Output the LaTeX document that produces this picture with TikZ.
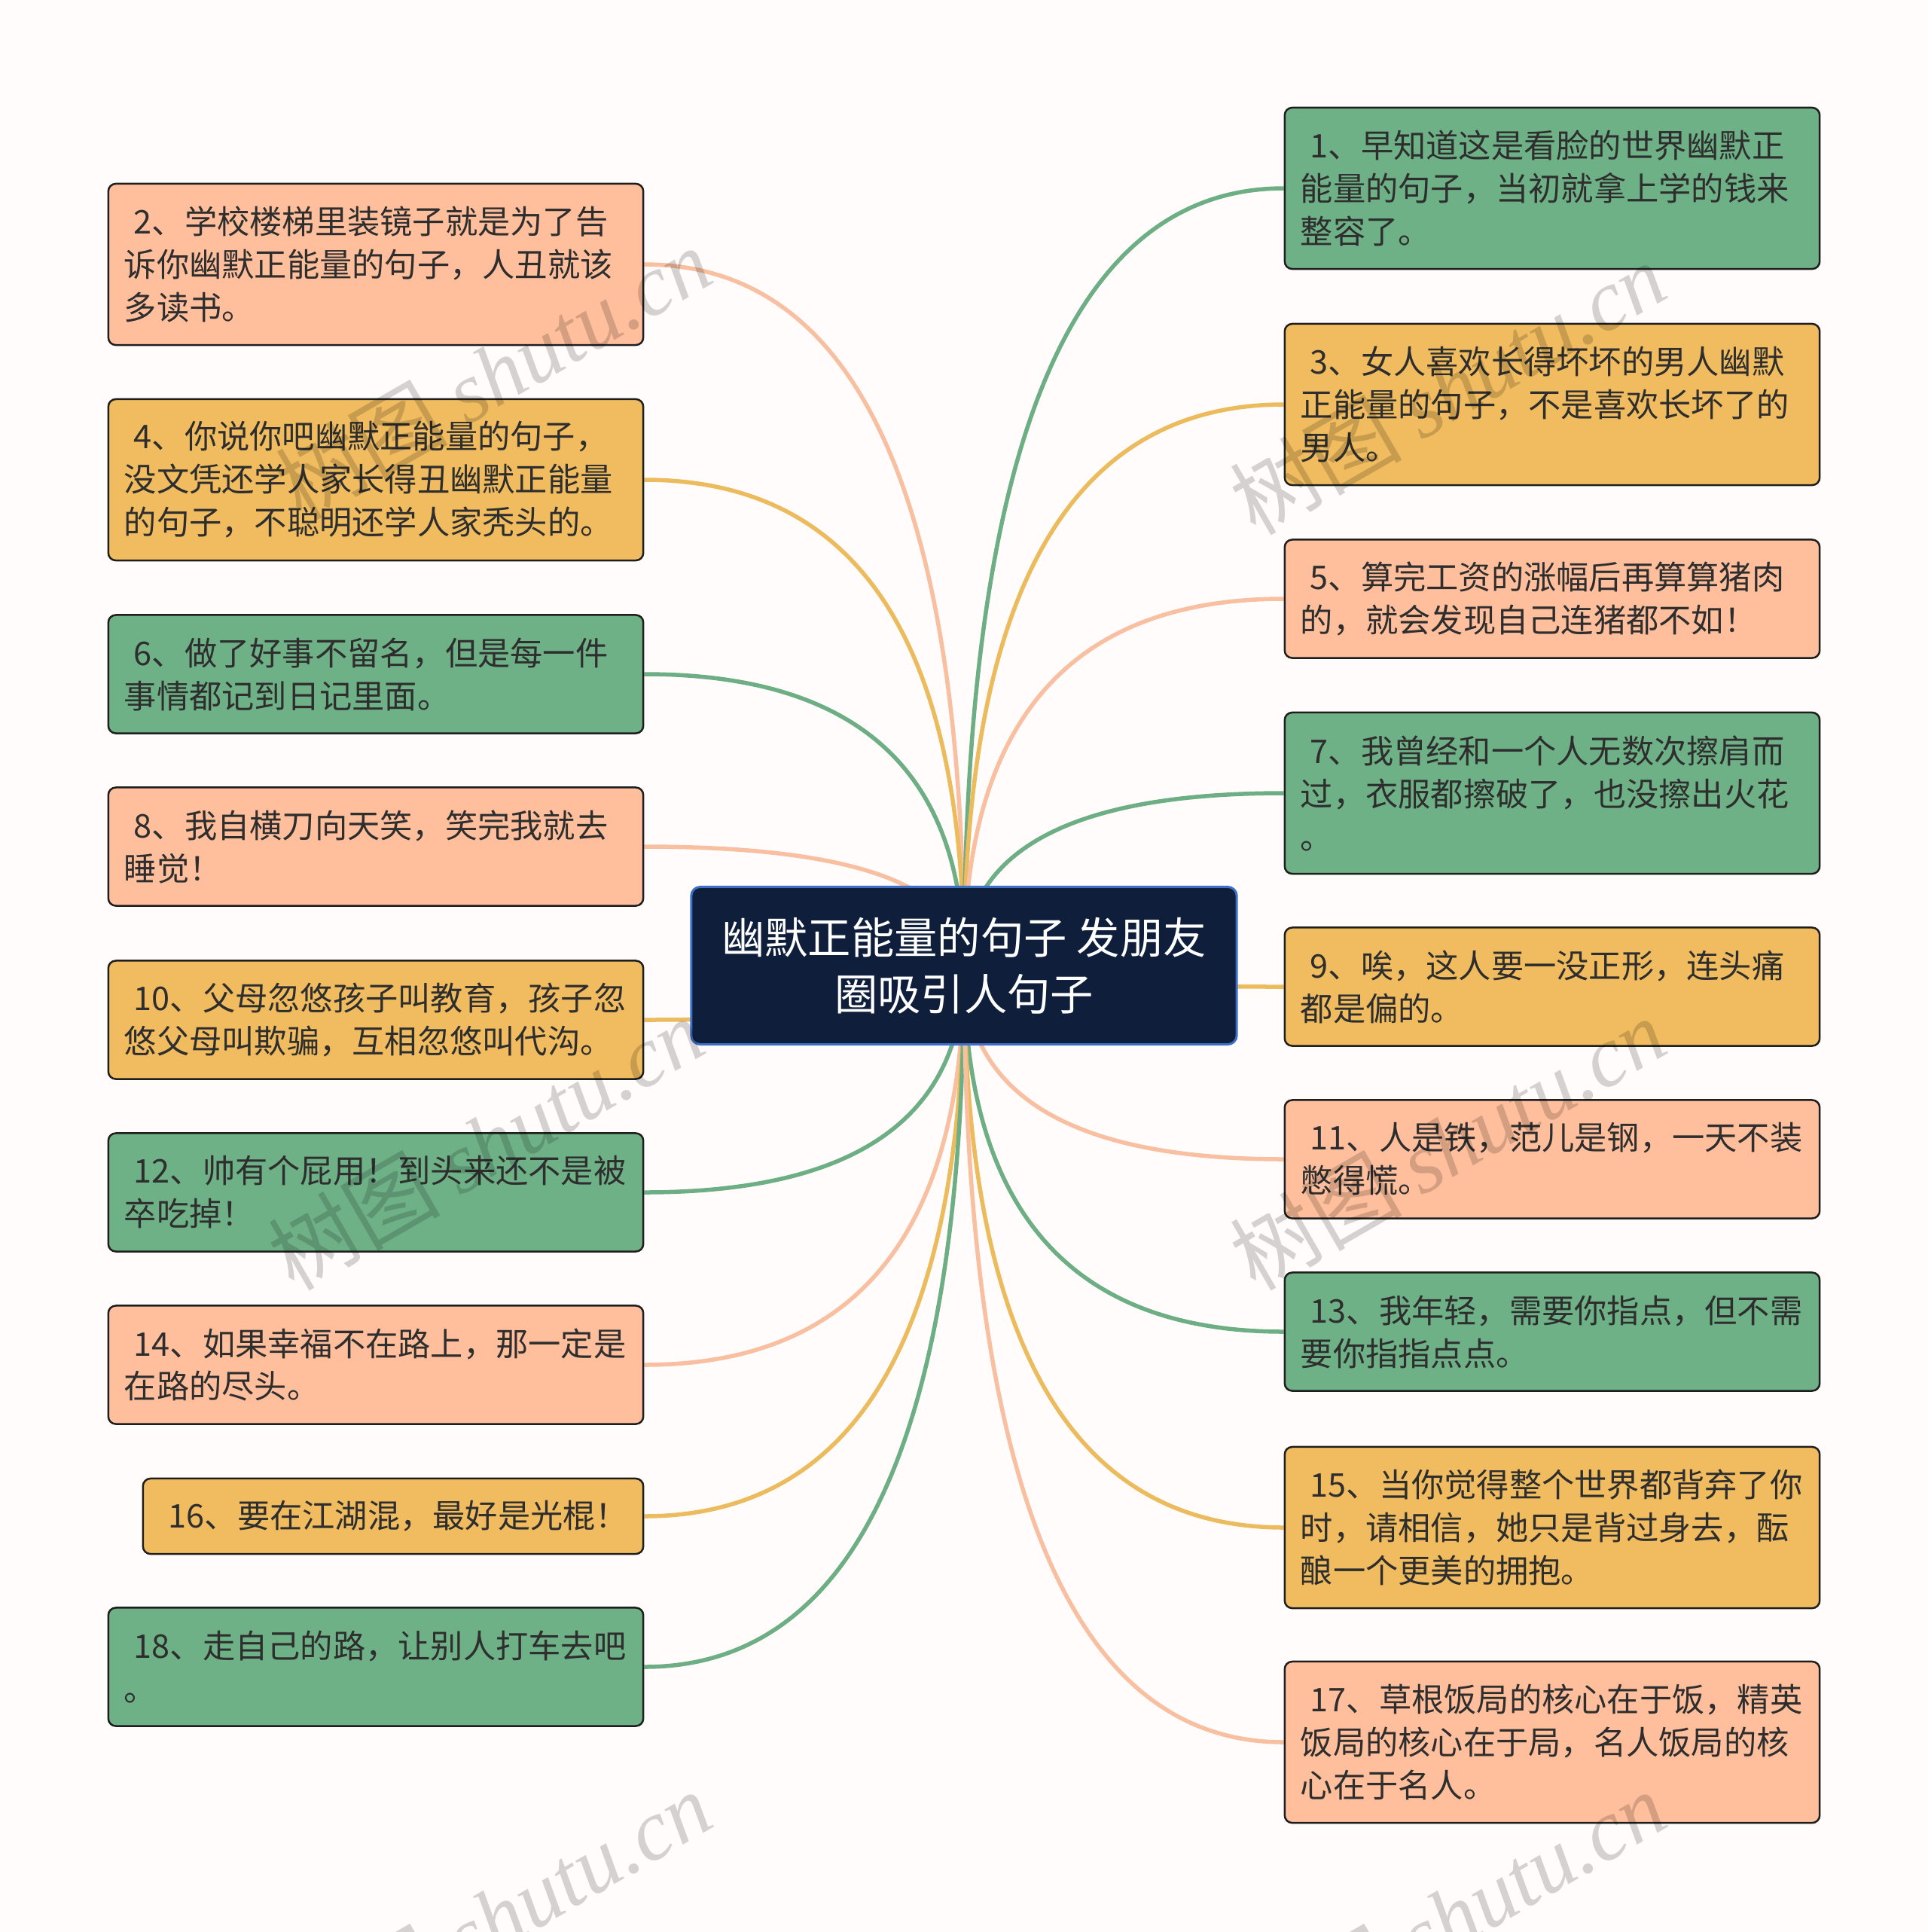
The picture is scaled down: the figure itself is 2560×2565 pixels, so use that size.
\documentclass[tikz,border=0pt]{standalone}
\usepackage{fontspec}
\setmainfont{Noto Sans CJK SC}
\newfontfamily\wmserif{Liberation Serif}
\usetikzlibrary{calc}
\pgfdeclarelayer{bg}
\pgfdeclarelayer{top}
\pgfsetlayers{bg,main,top}
\definecolor{bgc}{HTML}{FFFCFB}
\definecolor{salF}{HTML}{FFBF9C}
\definecolor{yelF}{HTML}{F0BC5F}
\definecolor{grnF}{HTML}{6FB187}
\definecolor{salE}{HTML}{F8BFA1}
\definecolor{yelE}{HTML}{EBBB5E}
\definecolor{grnE}{HTML}{6DAE85}
\definecolor{txt}{HTML}{2E2E2E}
\definecolor{bord}{HTML}{1E1E1E}
\definecolor{ctrF}{HTML}{0E1E3B}
\definecolor{ctrB}{HTML}{3D70C6}
\newcommand\leaffont{\fontsize{12.3pt}{16.2pt}\selectfont}
\newcommand\ttlfont{\fontsize{16.3pt}{21.3pt}\selectfont}
\newcommand\ind{\hspace*{0.3em}}
\tikzset{
  leaf/.style={draw=bord, line width=0.025cm, rounded corners=0.1cm,
    text width=6.68cm, inner xsep=0.21cm, inner ysep=0cm, align=left,
    font=\leaffont, text=txt},
  sal/.style={leaf, fill=salF},
  yel/.style={leaf, fill=yelF},
  grn/.style={leaf, fill=grnF},
  three/.style={minimum height=2.14cm},
  two/.style={minimum height=1.57cm},
  one/.style={minimum height=1.00cm},
  root/.style={draw=ctrB, fill=ctrF, line width=0.03cm, rounded corners=0.12cm,
    minimum width=7.24cm, minimum height=2.09cm, align=center,
    font=\ttlfont, text=white},
  eS/.style={draw=salE, line width=0.055cm},
  eY/.style={draw=yelE, line width=0.055cm},
  eG/.style={draw=grnE, line width=0.055cm},
  wm/.style={rotate=30, text=black, opacity=0.17, font=\fontsize{32.5pt}{32.5pt}\selectfont}
}
\newcommand\edgeto[2]{%
  \path (c.center |- #2) coordinate (tmpk);
  \draw[#1] (c.center) .. controls ($(c.center)!0.6667!(tmpk)$) and ($(#2)!0.6667!(tmpk)$) .. (#2);}
\begin{document}
\begin{tikzpicture}[x=0.01cm, y=-0.01cm]
\useasboundingbox (0,0) rectangle (2560,2565);

\node[root] (c) at (1280,1282) {幽默正能量的句子 发朋友\\圈吸引人句子};

% left column
\node[sal,three] (n2) at (499,351) {\ind 2、学校楼梯里装镜子就是为了告\\诉你幽默正能量的句子，人丑就该\\多读书。};
\node[yel,three] (n4) at (499,637) {\ind 4、你说你吧幽默正能量的句子，\\没文凭还学人家长得丑幽默正能量\\的句子，不聪明还学人家秃头的。};
\node[grn,two] (n6) at (499,895) {\ind 6、做了好事不留名，但是每一件\\事情都记到日记里面。};
\node[sal,two] (n8) at (499,1124) {\ind 8、我自横刀向天笑，笑完我就去\\睡觉！};
\node[yel,two] (n10) at (499,1354) {\ind 10、父母忽悠孩子叫教育，孩子忽\\悠父母叫欺骗，互相忽悠叫代沟。};
\node[grn,two] (n12) at (499,1583) {\ind 12、帅有个屁用！到头来还不是被\\卒吃掉！};
\node[sal,two] (n14) at (499,1812) {\ind 14、如果幸福不在路上，那一定是\\在路的尽头。};
\node[yel,one,text width=6.22cm] (n16) at (522,2013) {\ind 16、要在江湖混，最好是光棍！};
\node[grn,two] (n18) at (499,2213) {\ind 18、走自己的路，让别人打车去吧\\。};

% right column
\node[grn,three] (n1) at (2061,250) {\ind 1、早知道这是看脸的世界幽默正\\能量的句子，当初就拿上学的钱来\\整容了。};
\node[yel,three] (n3) at (2061,537) {\ind 3、女人喜欢长得坏坏的男人幽默\\正能量的句子，不是喜欢长坏了的\\男人。};
\node[sal,two] (n5) at (2061,795) {\ind 5、算完工资的涨幅后再算算猪肉\\的，就会发现自己连猪都不如！};
\node[grn,three] (n7) at (2061,1053) {\ind 7、我曾经和一个人无数次擦肩而\\过，衣服都擦破了，也没擦出火花\\。};
\node[yel,two] (n9) at (2061,1310) {\ind 9、唉，这人要一没正形，连头痛\\都是偏的。};
\node[sal,two] (n11) at (2061,1539) {\ind 11、人是铁，范儿是钢，一天不装\\憋得慌。};
\node[grn,two] (n13) at (2061,1768) {\ind 13、我年轻，需要你指点，但不需\\要你指指点点。};
\node[yel,three] (n15) at (2061,2028) {\ind 15、当你觉得整个世界都背弃了你\\时，请相信，她只是背过身去，酝\\酿一个更美的拥抱。};
\node[sal,three] (n17) at (2061,2313) {\ind 17、草根饭局的核心在于饭，精英\\饭局的核心在于局，名人饭局的核\\心在于名人。};

\begin{pgfonlayer}{bg}
\fill[bgc] (0,0) rectangle (2560,2565);
\edgeto{eS}{n2.east}
\edgeto{eY}{n4.east}
\edgeto{eG}{n6.east}
\edgeto{eS}{n8.east}
\edgeto{eY}{n10.east}
\edgeto{eG}{n12.east}
\edgeto{eS}{n14.east}
\edgeto{eY}{n16.east}
\edgeto{eG}{n18.east}
\edgeto{eG}{n1.west}
\edgeto{eY}{n3.west}
\edgeto{eS}{n5.west}
\edgeto{eG}{n7.west}
\edgeto{eY}{n9.west}
\edgeto{eS}{n11.west}
\edgeto{eG}{n13.west}
\edgeto{eY}{n15.west}
\edgeto{eS}{n17.west}
\end{pgfonlayer}

\begin{pgfonlayer}{top}
\node[wm] (w1) at (655,495) {树图 {\wmserif\itshape shutu.cn}};
\node[wm] (w2) at (1922,515) {树图 {\wmserif\itshape shutu.cn}};
\node[wm] (w3) at (645,1518) {树图 {\wmserif\itshape shutu.cn}};
\node[wm] (w4) at (1922,1518) {树图 {\wmserif\itshape shutu.cn}};
\node[wm] (w5) at (655,2545) {树图 {\wmserif\itshape shutu.cn}};
\node[wm] (w6) at (1922,2545) {树图 {\wmserif\itshape shutu.cn}};
\end{pgfonlayer}
\end{tikzpicture}
\end{document}
